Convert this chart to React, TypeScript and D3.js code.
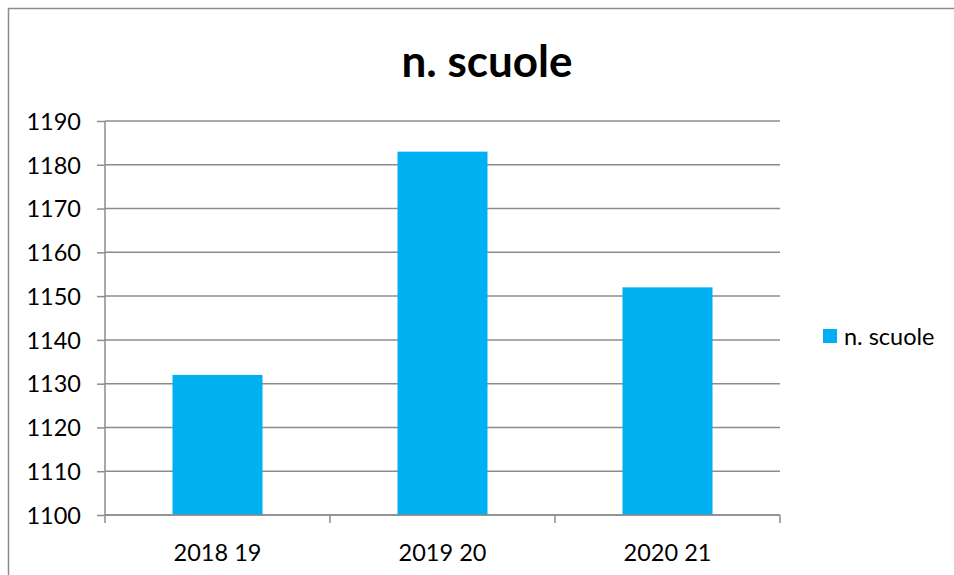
import React, { useEffect, useRef } from "react";
import * as d3 from "d3";

const title = "n. scuole";
const seriesName = "n. scuole";
const categories = ["2018 19", "2019 20", "2020 21"];
const values = [1132, 1183, 1152];
const yTicks = [1100, 1110, 1120, 1130, 1140, 1150, 1160, 1170, 1180, 1190];

const W = 954;
const H = 575;
const FONT = "Lato, 'Open Sans', sans-serif";
const LABEL_SIZE = 23.5;

export default function App() {
  const ref = useRef<SVGSVGElement>(null);

  useEffect(() => {
    const svg = d3.select(ref.current);
    svg.selectAll("*").remove();

    const plot = { left: 105, right: 780, top: 121, bottom: 515 };

    // outer chart border
    svg
      .append("rect")
      .attr("x", 8.5)
      .attr("y", 8.5)
      .attr("width", W + 20)
      .attr("height", H + 20)
      .attr("fill", "#fff")
      .attr("stroke", "#8c8c8c")
      .attr("stroke-width", 1.5);

    const x = d3
      .scaleBand<string>()
      .domain(categories)
      .range([plot.left, plot.right])
      .paddingInner(0.6)
      .paddingOuter(0.3);

    const y = d3
      .scaleLinear()
      .domain([1100, 1190])
      .range([plot.bottom, plot.top]);

    // gridlines
    svg
      .append("g")
      .selectAll("line")
      .data(yTicks)
      .join("line")
      .attr("x1", plot.left)
      .attr("x2", plot.right)
      .attr("y1", (d) => y(d))
      .attr("y2", (d) => y(d))
      .attr("stroke", "#8c8c8c")
      .attr("stroke-width", 1.5);

    // bars
    svg
      .append("g")
      .selectAll("rect")
      .data(values)
      .join("rect")
      .attr("x", (_, i) => x(categories[i])!)
      .attr("width", x.bandwidth())
      .attr("y", (d) => y(d))
      .attr("height", (d) => y(1100) - y(d))
      .attr("fill", "#00b0f0");

    // y axis
    const yAxis = d3
      .axisLeft(y)
      .tickValues(yTicks)
      .tickSize(8)
      .tickPadding(16)
      .tickFormat((d) => String(d));
    const gy = svg.append("g").attr("transform", `translate(${plot.left},0)`).call(yAxis);
    gy.select(".domain").attr("stroke", "#8c8c8c").attr("stroke-width", 1.5).attr("d", `M0,${plot.top}V${plot.bottom}`);
    gy.selectAll(".tick line").attr("stroke", "#8c8c8c").attr("stroke-width", 1.5);
    gy.selectAll(".tick text")
      .attr("fill", "#000")
      .attr("font-family", FONT)
      .attr("font-size", LABEL_SIZE)
      .attr("dy", "0.35em");

    // x axis
    const xEdges = d3
      .scaleLinear()
      .domain([0, categories.length])
      .range([plot.left, plot.right]);
    const bx = svg.append("g");
    bx.append("line")
      .attr("x1", plot.left)
      .attr("x2", plot.right)
      .attr("y1", plot.bottom)
      .attr("y2", plot.bottom)
      .attr("stroke", "#8c8c8c")
      .attr("stroke-width", 1.5);
    bx.selectAll("line.tk")
      .data(d3.range(categories.length + 1))
      .join("line")
      .attr("class", "tk")
      .attr("x1", (d) => xEdges(d))
      .attr("x2", (d) => xEdges(d))
      .attr("y1", plot.bottom)
      .attr("y2", plot.bottom + 8)
      .attr("stroke", "#8c8c8c")
      .attr("stroke-width", 1.5);
    bx.selectAll("text")
      .data(categories)
      .join("text")
      .attr("x", (d) => x(d)! + x.bandwidth() / 2)
      .attr("y", 561)
      .attr("text-anchor", "middle")
      .attr("font-family", FONT)
      .attr("font-size", LABEL_SIZE)
      .attr("fill", "#000")
      .text((d) => d);

    // title
    svg
      .append("text")
      .attr("x", 487)
      .attr("y", 77)
      .attr("text-anchor", "middle")
      .attr("font-family", FONT)
      .attr("font-weight", "bold")
      .attr("font-size", 44)
      .attr("fill", "#000")
      .text(title);

    // legend
    const lg = svg.append("g");
    lg.append("rect")
      .attr("x", 823)
      .attr("y", 329)
      .attr("width", 14)
      .attr("height", 14)
      .attr("fill", "#00b0f0");
    lg.append("text")
      .attr("x", 844)
      .attr("y", 345)
      .attr("font-family", FONT)
      .attr("font-size", LABEL_SIZE)
      .attr("fill", "#000")
      .text(seriesName);
  }, []);

  return (
    <svg
      ref={ref}
      width={W}
      height={H}
      style={{ position: "absolute", left: 0, top: 0, background: "#fff" }}
    />
  );
}
